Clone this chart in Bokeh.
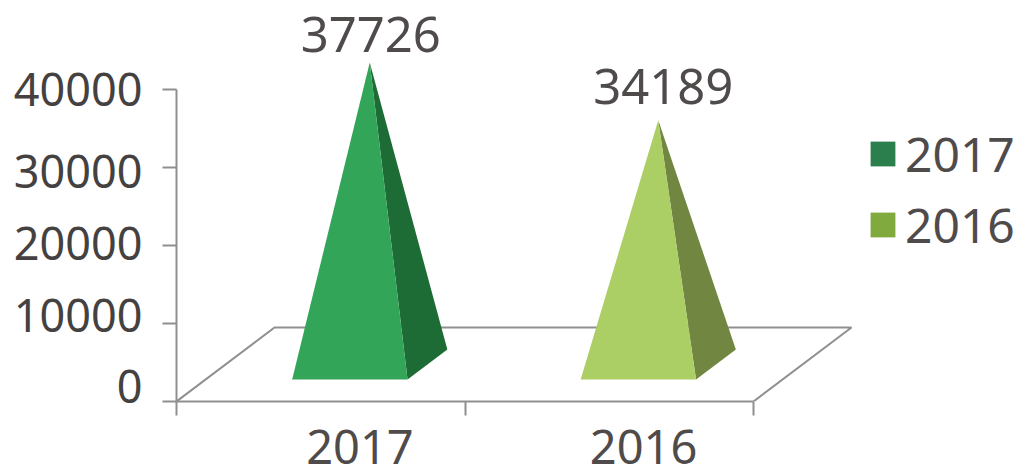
from bokeh.embed import file_html
from bokeh.resources import INLINE
from bokeh.plotting import figure
from bokeh.models import FixedTicker, Legend, LegendItem
from bokeh.core.properties import value

categories = ["2017", "2016"]
series_values = [37726, 34189]
# height of each pyramid's tip above its floor centre, as read against the value axis
tip_levels = [38650, 31250]
front_colors = ["#33a559", "#abce65"]
side_colors = ["#1d6b35", "#718640"]
legend_colors = ["#2b7f4c", "#80a93e"]
value_ticks = [0, 10000, 20000, 30000, 40000]
# where each tick's label sits on the value axis in the reference
value_label_levels = [1860, 10950, 20200, 29380, 40000]
category_label_levels = [0.636, 1.619]
label_dx = [1, 5]
label_dy = [28, 34]

FONT = "Noto Sans"
TEXT = "#4f4b4b"
AXIS = "#8f8f8f"
W, H = 1019, 469
PX_X = 288.5      # pixels per category
PX_Y = 312.5 / 40000   # pixels per value unit
LEFT, BOTTOM = 176, 68
DEPTH_X = 98 / PX_X
DEPTH_Y = 74 / PX_Y
HALF = 0.2
D_FRONT, D_BACK = 0.297, 0.703

p = figure(width=W, height=H, output_backend="svg", toolbar_location=None,
           x_range=(0, (W - LEFT) / PX_X), y_range=(0, (H - BOTTOM) / PX_Y),
           min_border_left=LEFT, min_border_bottom=BOTTOM, min_border_top=0, min_border_right=0,
           outline_line_color=None, background_fill_color="white", border_fill_color="white")
p.grid.visible = False


def proj(cx, depth, level=0):
    return cx + depth * DEPTH_X, level + depth * DEPTH_Y


# floor
corners = [proj(0, 0), proj(0, 1), proj(2, 1), proj(2, 0)]
p.line([c[0] for c in corners], [c[1] for c in corners], line_color=AXIS, line_width=2)

# pyramids
for i, cat in enumerate(categories):
    c = i + 0.5
    tip = proj(c, 0.5, tip_levels[i])
    fl = proj(c - HALF, D_FRONT)
    fr = proj(c + HALF, D_FRONT)
    br = proj(c + HALF, D_BACK)
    p.patch([tip[0], br[0], fr[0]], [tip[1], br[1], fr[1]], fill_color=side_colors[i], line_color=None)
    p.patch([tip[0], fr[0], fl[0]], [tip[1], fr[1], fl[1]], fill_color=front_colors[i], line_color=None)
    p.text([tip[0]], [tip[1]], text=[str(series_values[i])], x_offset=label_dx[i], y_offset=-label_dy[i],
           text_align="center", text_baseline="alphabetic", text_color=TEXT,
           text_font=value(FONT), text_font_size="49px")

# axes
yax = p.yaxis[0]
yax.ticker = FixedTicker(ticks=value_label_levels, minor_ticks=value_ticks)
yax.major_label_overrides = {lv: str(t) for lv, t in zip(value_label_levels, value_ticks)}
yax.bounds = (0, 40000)
yax.axis_line_color = AXIS
yax.axis_line_width = 2
yax.major_tick_line_color = None
yax.major_tick_in = 0
yax.major_tick_out = 14
yax.minor_tick_line_color = AXIS
yax.minor_tick_line_width = 2
yax.minor_tick_in = 0
yax.minor_tick_out = 14
yax.major_label_standoff = 20
yax.major_label_text_font = FONT
yax.major_label_text_font_size = "45px"
yax.major_label_text_color = "#454141"

xax = p.xaxis[0]
xax.ticker = FixedTicker(ticks=category_label_levels, minor_ticks=[0, 1, 2])
xax.major_label_overrides = dict(zip(category_label_levels, categories))
xax.bounds = (0, 2)
xax.axis_line_color = AXIS
xax.axis_line_width = 2
xax.major_tick_line_color = None
xax.major_tick_in = 0
xax.major_tick_out = 14
xax.minor_tick_line_color = AXIS
xax.minor_tick_line_width = 2
xax.minor_tick_in = 0
xax.minor_tick_out = 14
xax.major_label_standoff = 14
xax.major_label_text_font = FONT
xax.major_label_text_font_size = "47px"
xax.major_label_text_color = TEXT

# legend
items = []
nan = float("nan")
for cat, col in zip(categories, legend_colors):
    r = p.quad(left=[nan], right=[nan], top=[nan], bottom=[nan], fill_color=col, line_color=None)
    items.append(LegendItem(label=value(cat), renderers=[r]))
legend = Legend(items=items, location=(691, 144), orientation="vertical",
                glyph_width=31, glyph_height=31, label_standoff=7, spacing=6, label_height=2,
                padding=0, margin=0, border_line_color=None, background_fill_alpha=0,
                label_text_font=FONT, label_text_font_size="48px", label_text_color=TEXT)
p.add_layout(legend, "center")

open("out.html", "w").write(file_html(p, INLINE))
